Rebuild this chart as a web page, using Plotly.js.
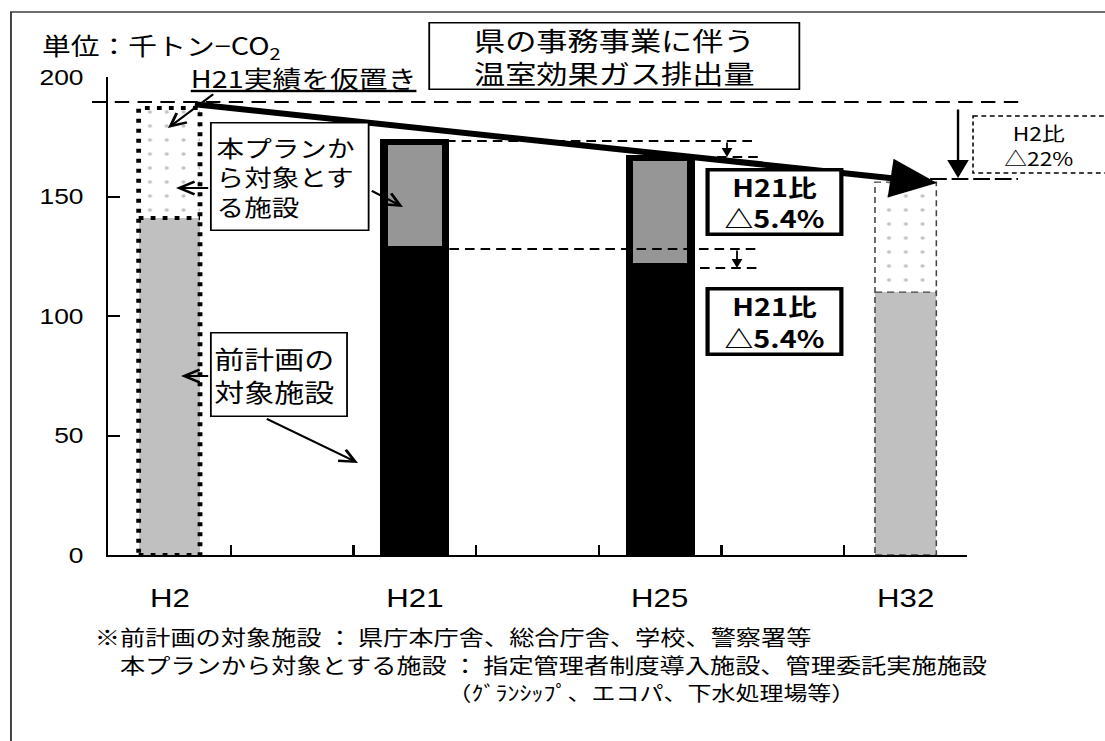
<!DOCTYPE html>
<html>
<head>
<meta charset="utf-8">
<script src="https://cdn.plot.ly/plotly-3.0.1.min.js"></script>
<style>
html,body{margin:0;padding:0;background:#fff;overflow:hidden;}
#wrap{width:1105px;height:741px;overflow:hidden;}
#plot{width:921px;height:741px;transform:scaleX(1.19978);transform-origin:0 0;}
</style>
</head>
<body>
<div id="wrap"><div id="plot"></div></div>
<script>
// ---- data ----
const categories = ['H2', 'H21', 'H25', 'H32'];
const prevPlanFacilities = [141, 128, 121, 110];   // 前計画の対象施設
const newPlanFacilities  = [46, 45, 45, 46];       // 本プランから対象とする施設
const yTickValues = [0, 50, 100, 150, 200];
const isEstimate = [true, false, false, true];     // H2 (仮置き) and H32 (target) drawn dotted

// ---- styles ----
const s = 1105 / 921;
const JP = "'Noto Sans CJK JP', 'Noto Sans', sans-serif";
const LAT = "'Liberation Sans', Arial, sans-serif";

const xpos = categories.map((c, i) => i * 2);
const totals = prevPlanFacilities.map((v, i) => v + newPlanFacilities[i]);
const boundaries = [];
for (let b = -0.5; b <= 6.5; b += 1) boundaries.push(b);
const idxEst = categories.map((c, i) => i).filter(i => isEstimate[i]);
const idxAct = categories.map((c, i) => i).filter(i => !isEstimate[i]);
const pick = (arr, idx) => idx.map(i => arr[i]);

function X(px) { return (px - 108) / 859; }
function Y(py) { return (555 - py) / 478; }

const traces = [
  { // 前計画 (estimate bars)
    type: 'bar', x: pick(xpos, idxEst), y: pick(prevPlanFacilities, idxEst), width: 0.5,
    marker: { color: '#C0C0C0', line: { width: 0 } }, hoverinfo: 'skip'
  },
  { // 前計画 (actual bars)
    type: 'bar', x: pick(xpos, idxAct), y: pick(prevPlanFacilities, idxAct), width: 0.5,
    marker: { color: '#000000', line: { color: '#000', width: 6 } }, hoverinfo: 'skip'
  },
  { // 本プラン (estimate, dotted)
    type: 'bar', x: pick(xpos, idxEst), y: pick(newPlanFacilities, idxEst), width: 0.5,
    marker: { color: '#FAFAFA', line: { width: 0 },
      pattern: { shape: '.', fgcolor: '#c4c4c4', bgcolor: '#ffffff', size: 14, solidity: 0.05 } },
    hoverinfo: 'skip'
  },
  { // 本プラン (actual)
    type: 'bar', x: pick(xpos, idxAct), y: pick(newPlanFacilities, idxAct), width: 0.5,
    marker: { color: '#969696', line: { color: '#000', width: 6 } }, hoverinfo: 'skip'
  }
];

function pline(x0, y0, x1, y1, w, dash, color) {
  return { type: 'line', xref: 'paper', yref: 'paper', x0: X(x0), y0: Y(y0), x1: X(x1), y1: Y(y1),
    line: { color: color || '#000', width: w, dash: dash || 'solid' } };
}

const shapes = [];
// outer frame
shapes.push({ type: 'rect', xref: 'paper', yref: 'paper', x0: X(11), y0: Y(12), x1: X(1300), y1: Y(900),
  line: { color: '#404040', width: 1.6 }, fillcolor: 'rgba(0,0,0,0)', layer: 'below' });

// H2 dotted outline + divider
shapes.push({ type: 'rect', xref: 'x', yref: 'y', x0: xpos[0] - 0.25, x1: xpos[0] + 0.25, y0: 0, y1: totals[0],
  line: { color: '#000', width: 4, dash: '4px,6px' } });
shapes.push({ type: 'line', xref: 'x', yref: 'y', x0: xpos[0] - 0.25, x1: xpos[0] + 0.25, y0: prevPlanFacilities[0], y1: prevPlanFacilities[0],
  line: { color: '#000', width: 4, dash: '4px,6px' } });
// H32 dashed outline + divider
shapes.push({ type: 'rect', xref: 'x', yref: 'y', x0: xpos[3] - 0.25, x1: xpos[3] + 0.25, y0: 0, y1: totals[3],
  line: { color: '#444', width: 1.3, dash: '6px,4px' } });
shapes.push({ type: 'line', xref: 'x', yref: 'y', x0: xpos[3] - 0.25, x1: xpos[3] + 0.25, y0: prevPlanFacilities[3], y1: prevPlanFacilities[3],
  line: { color: '#444', width: 1.3, dash: '6px,4px' } });

// reference dashed line
shapes.push(pline(92, 102, 1023, 102, 2, '12px,7px'));
// H21 / H25 comparison dashed lines
shapes.push(pline(446, 141, 752, 141, 2, '8px,5px'));
shapes.push(pline(717, 157, 760, 157, 2, '8px,5px'));
shapes.push(pline(387, 249, 760, 249, 2, '8px,5px'));
shapes.push(pline(700, 268, 762, 268, 2, '8px,5px'));
// H32 level line
shapes.push(pline(930, 179, 1018, 179, 2, '14px,4px'));
// H2比 dashed box
shapes.push({ type: 'rect', xref: 'paper', yref: 'paper', x0: X(973), y0: Y(116), x1: X(1200), y1: Y(173),
  line: { color: '#000', width: 1.3, dash: '4px,3px' }, fillcolor: 'rgba(0,0,0,0)' });

function arrow(hx, hy, tx, ty, head, size, w) {
  return { xref: 'paper', yref: 'paper', x: X(hx), y: Y(hy), ax: (tx - hx) / s, ay: (ty - hy),
    axref: 'pixel', ayref: 'pixel', text: '', showarrow: true, arrowhead: head, arrowsize: size,
    arrowwidth: w, arrowcolor: '#000', standoff: 0, startstandoff: 0 };
}
function box(x0, y0, x1, y1, text, font, bw, pad, align) {
  return { xref: 'paper', yref: 'paper', x: X(x0), y: Y(y0), xanchor: 'left', yanchor: 'top',
    width: (x1 - x0) / s - 2 * bw - 2 * pad, height: (y1 - y0) - 2 * bw - 2 * pad,
    text: text, font: font, bordercolor: '#000', borderwidth: bw, borderpad: pad, bgcolor: '#fff',
    align: align || 'center', valign: 'middle', showarrow: false };
}
function label(px, py, text, font, xanchor) {
  return { xref: 'paper', yref: 'paper', x: X(px), y: Y(py), xanchor: xanchor || 'left', yanchor: 'middle',
    text: text, font: font, showarrow: false };
}

const annotations = [
  // main trend arrow
  arrow(937, 183, 193, 104, 2, 1.3, 6),
  // small down arrows
  arrow(727, 157, 727, 141, 2, 1.2, 1.5),
  arrow(737, 268, 737, 249, 2, 1.2, 1.5),
  arrow(958, 178, 958, 108, 2, 1.8, 2),
  // pointer arrows
  arrow(168, 128, 215, 93, 5, 1.25, 2),
  arrow(176, 188, 210, 188, 5, 1.25, 2),
  arrow(403, 207, 370, 190, 5, 1.25, 2),
  arrow(181, 376, 210, 376, 5, 1.25, 2),
  arrow(358, 463, 265, 418, 5, 1.25, 2),
  // texts
  label(40, 46, '単位：千トン−CO<sub>2</sub>', { family: JP, size: 24, color: '#000' }),
  label(188, 78, 'H21実績を仮置き', { family: JP, size: 24, color: '#000', lineposition: 'under' }),
  box(428, 22, 800, 90, '県の事務事業に伴う<br>温室効果ガス排出量', { family: JP, size: 26, color: '#000' }, 1.5, 0),
  box(210, 122, 370, 231, '本プランか<br>ら対象とす<br>る施設', { family: JP, size: 23, color: '#000' }, 1.5, 4, 'left'),
  box(210, 332, 348, 417, '前計画の<br>対象施設', { family: JP, size: 25, color: '#000' }, 1.5, 2, 'left'),
  box(705, 168, 843, 236, '<b>H21比</b><br><b>△5.4%</b>', { family: JP, size: 24, color: '#000' }, 3.5, 0),
  box(705, 287, 843, 356, '<b>H21比</b><br><b>△5.4%</b>', { family: JP, size: 24, color: '#000' }, 3.5, 0),
  label(1039, 145, 'H2比<br>△22%', { family: JP, size: 19, color: '#000' }, 'center'),
  label(92, 636, '※前計画の対象施設 ： 県庁本庁舎、総合庁舎、学校、警察署等', { family: JP, size: 21, color: '#000' }),
  label(118, 664, '本プランから対象とする施設 ： 指定管理者制度導入施設、管理委託実施施設', { family: JP, size: 21, color: '#000' }),
  label(445, 692, '（ｸﾞﾗﾝｼｯﾌﾟ、エコパ、下水処理場等）', { family: JP, size: 20, color: '#000' })
];

// category labels under the axis (tick marks sit at category boundaries)
categories.forEach((c, i) => {
  annotations.push({ xref: 'x', yref: 'paper', x: xpos[i], y: Y(598), xanchor: 'center', yanchor: 'middle',
    text: c, showarrow: false, font: { family: LAT, size: 26, color: '#000' } });
});

const layout = {
  width: 921, height: 741,
  margin: { l: 90, r: 115, t: 77, b: 186, pad: 0 },
  paper_bgcolor: '#fff', plot_bgcolor: '#fff',
  showlegend: false, barmode: 'stack', hovermode: false,
  xaxis: {
    range: [-0.5, 6.5], tickmode: 'array', tickvals: boundaries, ticktext: boundaries.map(() => ''),
    ticks: 'inside', ticklen: 10, tickwidth: 2, tickcolor: '#000',
    showline: true, linecolor: '#000', linewidth: 2, showgrid: false, zeroline: false,
    showticklabels: false, fixedrange: true
  },
  yaxis: {
    range: [0, 200], tickmode: 'array', tickvals: yTickValues,
    ticks: 'inside', ticklen: 10, tickwidth: 2, tickcolor: '#000',
    showline: true, linecolor: '#000', linewidth: 2, showgrid: false, zeroline: false,
    tickfont: { family: LAT, size: 22, color: '#000' }, ticklabelstandoff: 14,
    fixedrange: true
  },
  shapes: shapes,
  annotations: annotations
};

Plotly.newPlot('plot', traces, layout, { staticPlot: true, displayModeBar: false });
</script>
</body>
</html>
